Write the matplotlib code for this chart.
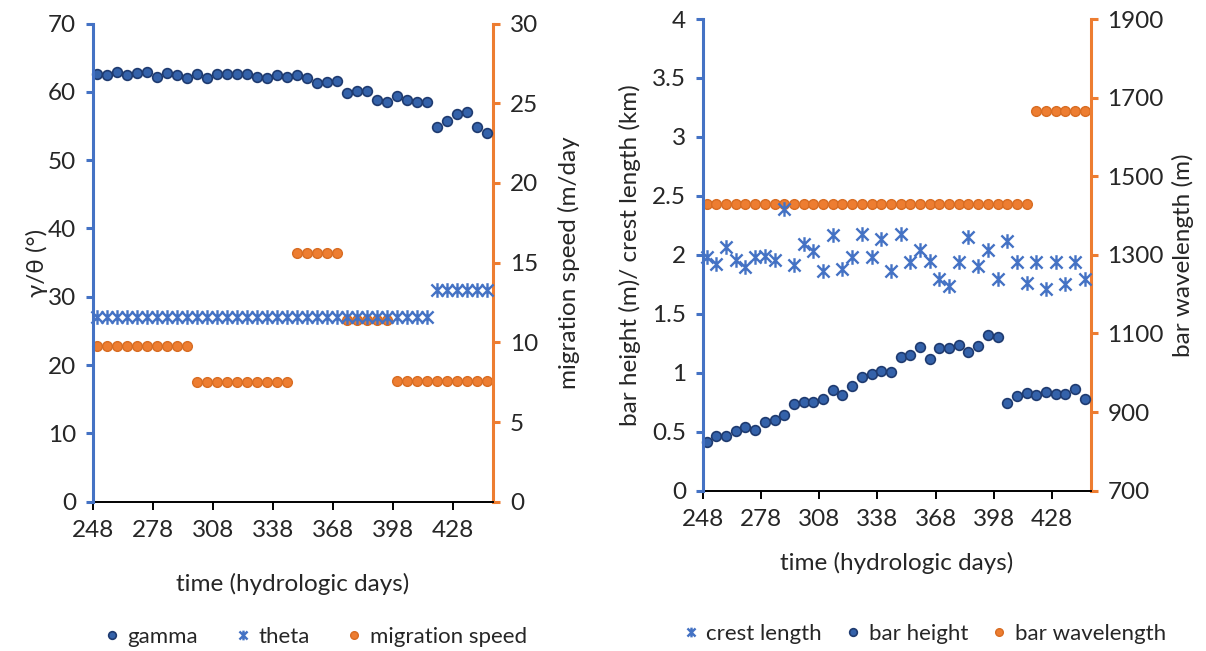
import matplotlib
matplotlib.use("Agg")
import matplotlib.pyplot as plt
from matplotlib.path import Path
from matplotlib.lines import Line2D

plt.rcParams['font.family'] = ['Lato', 'DejaVu Sans']

# ---- data -------------------------------------------------------------
days = list(range(250, 446, 5))  # hydrologic days, 40 samples

gamma = [62.6, 62.4, 62.95, 62.4, 62.75, 62.95, 62.2, 62.75, 62.4, 62.0,
         62.6, 62.0, 62.6, 62.6, 62.6, 62.6, 62.2, 62.0, 62.4, 62.2,
         62.4, 62.0, 61.25, 61.4, 61.6, 59.9, 60.1, 60.1, 58.8, 58.45,
         59.4, 58.8, 58.45, 58.45, 54.9, 55.8, 56.75, 57.1, 54.9, 53.95]

theta = [27] * 34 + [31] * 6

migration_speed = [9.8] * 10 + [7.5] * 10 + [15.6] * 5 + [11.4] * 5 + [7.6] * 10

bar_height = [0.411, 0.467, 0.465, 0.507, 0.541, 0.516, 0.586, 0.598, 0.640, 0.734,
              0.756, 0.756, 0.779, 0.856, 0.810, 0.887, 0.966, 0.989, 1.011, 1.003,
              1.130, 1.153, 1.218, 1.119, 1.207, 1.207, 1.232, 1.176, 1.229, 1.317,
              1.306, 0.748, 0.805, 0.827, 0.813, 0.839, 0.816, 0.824, 0.861, 0.782]

crest_length = [1.983, 1.923, 2.068, 1.960, 1.898, 1.983, 1.994, 1.960, 2.385, 1.918,
                2.093, 2.037, 1.861, 2.167, 1.884, 1.980, 2.178, 1.980, 2.136, 1.861,
                2.178, 1.937, 2.045, 1.946, 1.799, 1.739, 1.937, 2.153, 1.903, 2.045,
                1.796, 2.116, 1.937, 1.762, 1.937, 1.714, 1.937, 1.754, 1.937, 1.796]

bar_wavelength = [1430] * 34 + [1667] * 6

x_ticks = [248, 278, 308, 338, 368, 398, 428]

# ---- styles -----------------------------------------------------------
BLUE = '#4472C4'
DARK_FILL = '#3462AA'
DARK_EDGE = '#1F3B70'
ORANGE = '#ED7D31'
ORANGE_EDGE = '#D86C22'
TEXT = '#262626'
FS = 17.5
LEG_FS = 16

star = Path([(-1, -1), (1, 1), (-1, 1), (1, -1), (0, -1.2), (0, 1.2)],
            [Path.MOVETO, Path.LINETO, Path.MOVETO, Path.LINETO, Path.MOVETO, Path.LINETO])

dot_kw = dict(ls='none', marker='o', ms=7, mfc=DARK_FILL, mec=DARK_EDGE, mew=1.2)
org_kw = dict(ls='none', marker='o', ms=7, mfc=ORANGE, mec=ORANGE_EDGE, mew=1.0)
star_kw = dict(ls='none', marker=star, ms=10.5, mfc='none', mec=BLUE, mew=1.7)


def style_axes(ax, ax2):
    for a in (ax, ax2):
        a.spines['top'].set_visible(False)
    ax.spines['right'].set_visible(False)
    ax2.spines['left'].set_visible(False)
    ax2.spines['bottom'].set_visible(False)
    ax.spines['left'].set_color(BLUE)
    ax.spines['left'].set_linewidth(2.2)
    ax2.spines['right'].set_color(ORANGE)
    ax2.spines['right'].set_linewidth(2.2)
    ax.spines['bottom'].set_color('black')
    ax.spines['bottom'].set_linewidth(1.4)
    ax.spines['bottom'].set_zorder(0.5)
    ax.tick_params(axis='y', colors=BLUE, labelcolor=TEXT, length=5, width=2.2,
                   labelsize=FS, pad=7)
    ax.tick_params(axis='x', colors='black', labelcolor=TEXT, length=6, width=1.4,
                   labelsize=FS, pad=7)
    ax2.tick_params(axis='y', colors=ORANGE, labelcolor=TEXT, length=5, width=2.2,
                    labelsize=FS, pad=7)
    ax.set_xlim(248, 448)
    ax.set_xticks(x_ticks)


fig = plt.figure(figsize=(12.06, 6.51), dpi=100)

# ---- left panel: angles and migration speed ---------------------------
posL = [0.0769, 0.2293, 0.3322, 0.7346]
axL = fig.add_axes(posL)
axL2 = axL.twinx()
axL.set_position(posL)
axL2.set_position(posL)
axL.set_zorder(axL2.get_zorder() + 1)
axL.patch.set_visible(False)

axL2.plot(days, migration_speed, **org_kw, clip_on=False)
axL.plot(days, theta, **star_kw, clip_on=False)
axL.plot(days, gamma, **dot_kw, clip_on=False)

axL.set_ylim(0, 70)
axL.set_yticks(range(0, 71, 10))
axL2.set_ylim(0, 30)
axL2.set_yticks(range(0, 31, 5))
style_axes(axL, axL2)
axL.set_ylabel('γ/θ (°)', fontsize=FS, color=TEXT, labelpad=0)
axL2.set_ylabel('migration speed (m/day', fontsize=FS, color=TEXT, labelpad=14)
axL.set_xlabel('time (hydrologic days)', fontsize=FS, color=TEXT, labelpad=23)

# ---- right panel: bar geometry ----------------------------------------
posR = [0.5827, 0.2462, 0.3217, 0.7246]
axR = fig.add_axes(posR)
axR2 = axR.twinx()
axR.set_position(posR)
axR2.set_position(posR)
axR.set_zorder(axR2.get_zorder() + 1)
axR.patch.set_visible(False)

axR2.plot(days, bar_wavelength, **org_kw, clip_on=False)
axR.plot(days, crest_length, **star_kw, clip_on=False)
axR.plot(days, bar_height, **dot_kw, clip_on=False)

axR.set_ylim(0, 4)
axR.set_yticks([0, 0.5, 1, 1.5, 2, 2.5, 3, 3.5, 4])
axR.set_yticklabels(['0', '0.5', '1', '1.5', '2', '2.5', '3', '3.5', '4'])
axR2.set_ylim(700, 1900)
axR2.set_yticks(range(700, 1901, 200))
style_axes(axR, axR2)
axR.set_ylabel('bar height (m)/ crest length (km)', fontsize=FS, color=TEXT, labelpad=8)
axR2.set_ylabel('bar wavelength (m)', fontsize=FS, color=TEXT, labelpad=6)
axR.set_xlabel('time (hydrologic days)', fontsize=FS, color=TEXT, labelpad=16)

# ---- legends ----------------------------------------------------------
h_gamma = Line2D([], [], **{**dot_kw, 'ms': 5.5})
h_theta = Line2D([], [], **{**star_kw, 'ms': 7})
h_mig = Line2D([], [], **{**org_kw, 'ms': 5.5})
fig.legend([h_gamma, h_theta, h_mig], ['gamma', 'theta', 'migration speed'],
           loc='center', bbox_to_anchor=(0.262, 0.022), ncol=3, frameon=False,
           fontsize=LEG_FS, handlelength=0.6, handletextpad=0.4, columnspacing=1.7,
           labelcolor=TEXT)

h_crest = Line2D([], [], **{**star_kw, 'ms': 7})
h_height = Line2D([], [], **{**dot_kw, 'ms': 5.5})
h_wave = Line2D([], [], **{**org_kw, 'ms': 5.5})
fig.legend([h_crest, h_height, h_wave], ['crest length', 'bar height', 'bar wavelength'],
           loc='center', bbox_to_anchor=(0.767, 0.026), ncol=3, frameon=False,
           fontsize=LEG_FS, handlelength=0.6, handletextpad=0.4, columnspacing=1.1,
           labelcolor=TEXT)

fig.savefig('out.png', dpi=100)
